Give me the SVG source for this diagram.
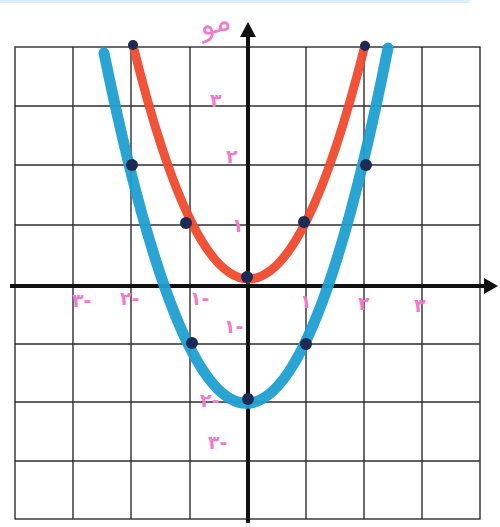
<svg xmlns="http://www.w3.org/2000/svg" width="500" height="527" viewBox="0 0 500 527">
<style>
.grid{stroke:#2e2e2e;stroke-width:1.4;fill:none}
.axis{stroke:#111;stroke-width:4;fill:none}
.red{stroke:#ef4a2c;stroke-width:9;fill:none;stroke-linecap:round;opacity:.95}
.blue{stroke:#1f9fd0;stroke-width:11;fill:none;stroke-linecap:round;opacity:.95}
.dot{fill:#1b2b55}
.lbl{fill:#f27ccb;font-family:"DejaVu Sans",sans-serif;font-size:19px;font-weight:bold}
</style>
<rect width="500" height="527" fill="#fff"/>
<rect x="0" y="0" width="470" height="3" fill="#dcefff"/>
<g id="grid" class="grid">
<rect x="15" y="47" width="465" height="472"/>
<path d="M73 47V519M131 47V519M190 47V519M306 47V519M364 47V519M422 47V519"/>
<path d="M15 106H480M15 165H480M15 225H480M15 344H480M15 402H480M15 461H480"/>
</g>
<g id="axes">
<path class="axis" d="M10 286H486"/>
<path d="M498 286L484 278V294Z" fill="#111"/>
<path class="axis" d="M248 523V36"/>
<path d="M248 22L240 37H256Z" fill="#111"/>
</g>
<g id="curves">
<path id="blue-curve" class="blue" d="M104 53Q248 756 388 48"/>
<path id="red-curve" class="red" d="M133 45Q248 513 365 45"/>
</g>
<g id="points" class="dot">
<circle cx="133" cy="45" r="5"/>
<circle cx="186" cy="223" r="6"/>
<circle cx="247" cy="277" r="6"/>
<circle cx="304" cy="222" r="6"/>
<circle cx="365" cy="46" r="5"/>
<circle cx="132" cy="165" r="6"/>
<circle cx="192" cy="343" r="6"/>
<circle cx="248" cy="399" r="6"/>
<circle cx="306" cy="344" r="6"/>
<circle cx="366" cy="165" r="6"/>
</g>
<g id="labels" class="lbl">
<text x="198" y="30" font-size="30" font-weight="normal" transform="rotate(-15 225 18)">مو</text>
<text x="210" y="107">۳</text>
<text x="226" y="163">۲</text>
<text x="232" y="232">۱</text>
<text x="72" y="307">۳-</text>
<text x="120" y="305">۲-</text>
<text x="190" y="305">۱-</text>
<text x="300" y="308">۱</text>
<text x="358" y="310">۲</text>
<text x="414" y="312">۳</text>
<text x="224" y="333">۱-</text>
<text x="200" y="407">۲-</text>
<text x="208" y="449">۳-</text>
</g>
</svg>
